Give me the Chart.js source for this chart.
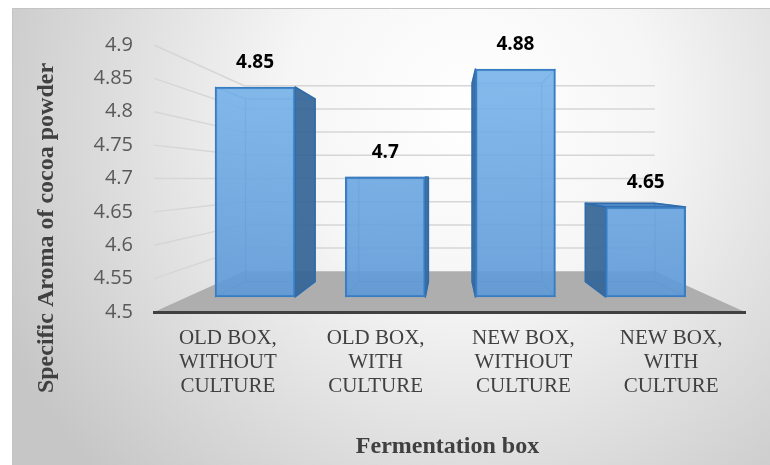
<!DOCTYPE html>
<html>
<head>
<meta charset="utf-8">
<script src="https://cdn.jsdelivr.net/npm/chart.js@4.4.0/dist/chart.umd.min.js"></script>
<style>
html,body{margin:0;padding:0;background:#fff;}
#wrap{width:770px;height:465px;}
</style>
</head>
<body>
<div id="wrap"><canvas id="myChart" width="770" height="465"></canvas></div>
<script>
// chart data
var categories = [
  ["OLD BOX,", "WITHOUT", "CULTURE"],
  ["OLD BOX,", "WITH", "CULTURE"],
  ["NEW BOX,", "WITHOUT", "CULTURE"],
  ["NEW BOX,", "WITH", "CULTURE"]
];
var aroma = [4.85, 4.7, 4.88, 4.65];
var yTicks = [4.5, 4.55, 4.6, 4.65, 4.7, 4.75, 4.8, 4.85, 4.9];
var xTitle = "Fermentation box";
var yTitle = "Specific Aroma of cocoa powder";

// depth factors for the fake 3d look
var K_WALL = 0.695;   // back wall relative to front plane
var K_BAR = 0.87;     // back of each bar relative to its front face

function vanish(ca) {
  return { x: (ca.left + ca.right) / 2, y: (ca.top + ca.bottom) / 2 };
}

// ==========================================================
//         background, floor and perspective grid
// ==========================================================
var roomPlugin = {
  id: 'room',
  beforeDraw: function(chart) {
    var ctx = chart.ctx, ca = chart.chartArea;
    var vp = vanish(ca);
    ctx.save();
    var g = ctx.createRadialGradient(470, 110, 0, 470, 110, 520);
    g.addColorStop(0, '#ffffff');
    g.addColorStop(0.35, '#f6f6f6');
    g.addColorStop(1, '#c6c6c6');
    ctx.fillStyle = g;
    ctx.fillRect(12, 8, 758, 457);
    ctx.strokeStyle = '#c4c4c4';
    ctx.lineWidth = 1;
    ctx.beginPath();
    ctx.moveTo(12.5, 465); ctx.lineTo(12.5, 8.5); ctx.lineTo(770, 8.5);
    ctx.stroke();

    var bxl = vp.x + (ca.left - vp.x) * K_WALL;
    var bxr = vp.x + (ca.right - vp.x) * K_WALL;
    var yScale = chart.scales.y;

    // floor
    var yb0 = vp.y + (ca.bottom - vp.y) * K_WALL;
    ctx.fillStyle = '#aeaeae';
    ctx.beginPath();
    ctx.moveTo(ca.left, ca.bottom);
    ctx.lineTo(ca.right, ca.bottom);
    ctx.lineTo(bxr, yb0);
    ctx.lineTo(bxl, yb0);
    ctx.closePath();
    ctx.fill();

    // grid lines on left wall + back wall
    ctx.strokeStyle = '#d6d6d6';
    ctx.lineWidth = 1.5;
    yTicks.forEach(function(v) {
      if (v === yScale.min) return;
      var yf = yScale.getPixelForValue(v);
      var yb = vp.y + (yf - vp.y) * K_WALL;
      ctx.beginPath();
      ctx.moveTo(ca.left, yf);
      ctx.lineTo(bxl, yb);
      ctx.lineTo(bxr, yb);
      ctx.stroke();
    });

    // axis titles
    ctx.fillStyle = '#404040';
    ctx.font = 'bold 24px "Liberation Serif"';
    ctx.textAlign = 'center';
    ctx.textBaseline = 'middle';
    ctx.fillText(xTitle, (ca.left + ca.right) / 2 - 2, 447);
    ctx.translate(47, 228);
    ctx.rotate(-Math.PI / 2);
    ctx.fillText(yTitle, 0, 0);
    ctx.restore();
  }
};

// ==========================================================
//         side / back faces of the boxes
// ==========================================================
var boxPlugin = {
  id: 'box3d',
  beforeDatasetsDraw: function(chart) {
    var ctx = chart.ctx, ca = chart.chartArea;
    var vp = vanish(ca);
    function px(x) { return vp.x + (x - vp.x) * K_BAR; }
    function py(y) { return vp.y + (y - vp.y) * K_BAR; }
    ctx.save();
    ctx.lineJoin = 'round';
    chart.getDatasetMeta(0).data.forEach(function(bar) {
      var p = bar.getProps(['x', 'y', 'base', 'width'], true);
      var l = p.x - p.width / 2, r = p.x + p.width / 2, t = p.y, b = p.base;
      var bl = px(l), br = px(r), bt = py(t), bb = py(b);

      // side face
      ctx.fillStyle = 'rgba(52,100,150,0.92)';
      ctx.strokeStyle = '#2f6aa8';
      ctx.lineWidth = 1.5;
      ctx.beginPath();
      if (p.x < vp.x) {
        ctx.moveTo(r, t); ctx.lineTo(br, bt); ctx.lineTo(br, bb); ctx.lineTo(r, b);
      } else {
        ctx.moveTo(l, t); ctx.lineTo(bl, bt); ctx.lineTo(bl, bb); ctx.lineTo(l, b);
      }
      ctx.closePath();
      ctx.fill();
      ctx.stroke();

      // top face when it is below eye level
      if (t > vp.y) {
        ctx.fillStyle = 'rgba(70,130,195,0.95)';
        ctx.beginPath();
        ctx.moveTo(l, t); ctx.lineTo(r, t); ctx.lineTo(br, bt); ctx.lineTo(bl, bt);
        ctx.closePath();
        ctx.fill();
        ctx.stroke();
      }

      // back edges seen through the glass
      ctx.strokeStyle = 'rgba(50,110,175,0.55)';
      ctx.lineWidth = 1.2;
      ctx.strokeRect(bl, bt, br - bl, bb - bt);
      ctx.beginPath();
      ctx.moveTo(l, t); ctx.lineTo(bl, bt);
      ctx.moveTo(r, t); ctx.lineTo(br, bt);
      ctx.moveTo(l, b); ctx.lineTo(bl, bb);
      ctx.moveTo(r, b); ctx.lineTo(br, bb);
      ctx.stroke();
    });
    ctx.restore();
  },
  afterDatasetsDraw: function(chart) {
    var ctx = chart.ctx;
    ctx.save();
    ctx.fillStyle = '#000';
    ctx.font = 'bold 19px "Open Sans"';
    ctx.textAlign = 'center';
    ctx.textBaseline = 'middle';
    chart.getDatasetMeta(0).data.forEach(function(bar, i) {
      ctx.fillText(String(aroma[i]), bar.x, bar.y - 24);
    });
    ctx.restore();
  }
};

var ctx = document.getElementById('myChart').getContext('2d');
var chart = new Chart(ctx, {
  type: 'bar',
  data: {
    labels: categories,
    datasets: [{
      label: yTitle,
      data: aroma.map(function(v, i) { return { x: i, y: v }; }),
      xAxisID: 'xb',
      yAxisID: 'yb',
      base: yTicks[0],
      barThickness: 80,
      backgroundColor: function(c) {
        var ca = c.chart.chartArea;
        if (!ca) return 'rgba(100,160,220,0.88)';
        var g = c.chart.ctx.createLinearGradient(0, ca.top, 0, ca.bottom);
        g.addColorStop(0, 'rgba(122,182,236,0.9)');
        g.addColorStop(1, 'rgba(92,152,214,0.9)');
        return g;
      },
      borderColor: '#3a7cc2',
      borderWidth: 2,
      borderSkipped: false
    }]
  },
  options: {
    responsive: false,
    devicePixelRatio: 1,
    animation: false,
    layout: { padding: { top: 45, right: 25, bottom: 0, left: 0 } },
    plugins: { legend: { display: false }, tooltip: { enabled: false } },
    scales: {
      x: {
        type: 'category',
        offset: true,
        grid: { display: false, drawTicks: false },
        border: { display: true, color: '#404040', width: 3 },
        ticks: {
          color: '#404040',
          font: { family: '"Liberation Serif"', size: 21, lineHeight: 1.14 },
          padding: 15,
          maxRotation: 0,
          autoSkip: false
        },
        afterFit: function(s) { s.height = 153; }
      },
      y: {
        type: 'linear',
        min: 4.5,
        max: 4.9,
        grid: { display: false, drawTicks: false },
        border: { display: false },
        afterBuildTicks: function(s) { s.ticks = yTicks.map(function(v) { return { value: v }; }); },
        ticks: {
          color: '#595959',
          font: { family: '"Open Sans"', size: 20 },
          padding: 21,
          callback: function(v) { return String(v); }
        },
        afterFit: function(s) { s.width = 154; }
      },
      // hidden scales for the bars, sitting deeper in the box
      xb: { type: 'linear', axis: 'x', display: false, offset: false, grid: { offset: false }, min: -0.776, max: 3.763 },
      yb: { type: 'linear', axis: 'y', display: false, min: 4.475, max: 4.92 }
    }
  },
  plugins: [roomPlugin, boxPlugin]
});
</script>
</body>
</html>
